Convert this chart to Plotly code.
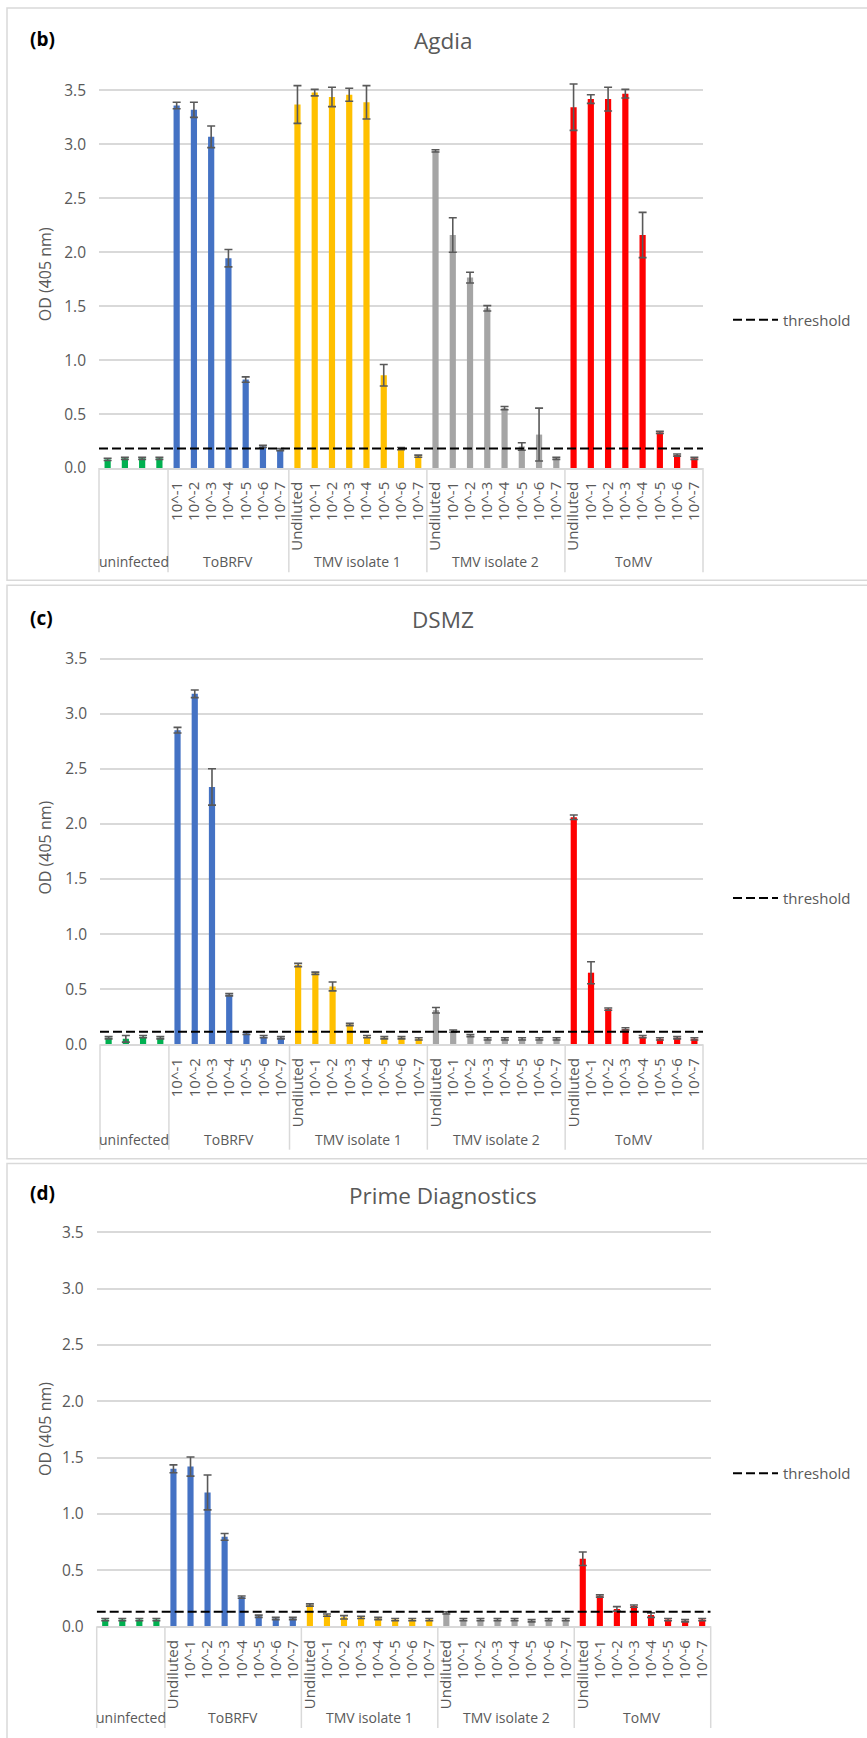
import plotly.graph_objects as go

W, H = 867, 1738

# ---------------- data ----------------
GROUPS = ["uninfected", "ToBRFV", "TMV isolate 1", "TMV isolate 2", "ToMV"]
COLORS = ["#00B050", "#4472C4", "#FFC000", "#A5A5A5", "#FF0000"]
UNINF = ["", "", "", ""]
DIL7 = ["10^-1", "10^-2", "10^-3", "10^-4", "10^-5", "10^-6", "10^-7"]
DIL8 = ["Undiluted"] + DIL7

# (b) Agdia
agdia_labels = [UNINF, DIL7, DIL8, DIL8, DIL8]
agdia_uninfected = [0.08, 0.09, 0.09, 0.09]
agdia_uninfected_err = [0.01, 0.01, 0.01, 0.01]
agdia_tobrfv = [3.36, 3.32, 3.07, 1.945, 0.82, 0.20, 0.17]
agdia_tobrfv_err = [0.03, 0.07, 0.10, 0.08, 0.025, 0.01, 0.01]
agdia_tmv1 = [3.37, 3.48, 3.44, 3.46, 3.39, 0.86, 0.18, 0.11]
agdia_tmv1_err = [0.175, 0.03, 0.09, 0.06, 0.155, 0.10, 0.01, 0.01]
agdia_tmv2 = [2.94, 2.16, 1.765, 1.48, 0.555, 0.20, 0.31, 0.09]
agdia_tmv2_err = [0.01, 0.16, 0.05, 0.025, 0.015, 0.035, 0.245, 0.01]
agdia_tomv = [3.345, 3.42, 3.42, 3.47, 2.16, 0.33, 0.12, 0.09]
agdia_tomv_err = [0.215, 0.04, 0.11, 0.04, 0.21, 0.01, 0.01, 0.01]
agdia_threshold = 0.18

# (c) DSMZ
dsmz_labels = [UNINF, DIL7, DIL8, DIL8, DIL8]
dsmz_uninfected = [0.06, 0.05, 0.07, 0.06]
dsmz_uninfected_err = [0.01, 0.03, 0.01, 0.01]
dsmz_tobrfv = [2.85, 3.18, 2.335, 0.45, 0.10, 0.07, 0.06]
dsmz_tobrfv_err = [0.025, 0.035, 0.165, 0.01, 0.01, 0.01, 0.01]
dsmz_tmv1 = [0.72, 0.645, 0.525, 0.18, 0.07, 0.06, 0.06, 0.05]
dsmz_tmv1_err = [0.015, 0.01, 0.04, 0.01, 0.01, 0.01, 0.01, 0.01]
dsmz_tmv2 = [0.31, 0.12, 0.08, 0.05, 0.05, 0.05, 0.05, 0.05]
dsmz_tmv2_err = [0.025, 0.01, 0.01, 0.01, 0.01, 0.01, 0.01, 0.01]
dsmz_tomv = [2.06, 0.65, 0.32, 0.14, 0.07, 0.05, 0.06, 0.05]
dsmz_tomv_err = [0.02, 0.10, 0.01, 0.01, 0.01, 0.01, 0.01, 0.01]
dsmz_threshold = 0.115

# (d) Prime Diagnostics
prime_labels = [UNINF, DIL8, DIL8, DIL8, DIL8]
prime_uninfected = [0.06, 0.06, 0.06, 0.06]
prime_uninfected_err = [0.01, 0.01, 0.01, 0.01]
prime_tobrfv = [1.40, 1.42, 1.19, 0.795, 0.26, 0.09, 0.07, 0.07]
prime_tobrfv_err = [0.035, 0.085, 0.155, 0.03, 0.01, 0.01, 0.01, 0.01]
prime_tmv1 = [0.19, 0.10, 0.08, 0.08, 0.07, 0.06, 0.06, 0.06]
prime_tmv1_err = [0.01, 0.01, 0.015, 0.01, 0.01, 0.01, 0.01, 0.01]
prime_tmv2 = [0.12, 0.06, 0.06, 0.06, 0.06, 0.05, 0.06, 0.06]
prime_tmv2_err = [0.01, 0.01, 0.01, 0.01, 0.01, 0.01, 0.01, 0.01]
prime_tomv = [0.60, 0.27, 0.155, 0.18, 0.10, 0.06, 0.05, 0.06]
prime_tomv_err = [0.06, 0.01, 0.02, 0.01, 0.02, 0.01, 0.01, 0.01]
prime_threshold = 0.13

Y_TICKS = [0, 0.5, 1.0, 1.5, 2.0, 2.5, 3.0, 3.5]

# ---------------- layout geometry (pixels) ----------------
panels = [
    dict(title="Agdia", tag="(b)", labels=agdia_labels,
         values=[agdia_uninfected, agdia_tobrfv, agdia_tmv1, agdia_tmv2, agdia_tomv],
         errors=[agdia_uninfected_err, agdia_tobrfv_err, agdia_tmv1_err, agdia_tmv2_err, agdia_tomv_err],
         threshold=agdia_threshold,
         px_left=99, px_right=703, px_zero=470, k=108.57,
         box_top=7, box_bottom=583, title_y=40, tag_y=38, ytitle_y=275,
         group_y=564, div_bottom=575, legend_y=321),
    dict(title="DSMZ", tag="(c)", labels=dsmz_labels,
         values=[dsmz_uninfected, dsmz_tobrfv, dsmz_tmv1, dsmz_tmv2, dsmz_tomv],
         errors=[dsmz_uninfected_err, dsmz_tobrfv_err, dsmz_tmv1_err, dsmz_tmv2_err, dsmz_tomv_err],
         threshold=dsmz_threshold,
         px_left=100, px_right=703, px_zero=1050, k=110.94,
         box_top=588, box_bottom=1165, title_y=622, tag_y=621, ytitle_y=852,
         group_y=1146, div_bottom=1156, legend_y=903),
    dict(title="Prime Diagnostics", tag="(d)", labels=prime_labels,
         values=[prime_uninfected, prime_tobrfv, prime_tmv1, prime_tmv2, prime_tomv],
         errors=[prime_uninfected_err, prime_tobrfv_err, prime_tmv1_err, prime_tmv2_err, prime_tomv_err],
         threshold=prime_threshold,
         px_left=96.7, px_right=710.7, px_zero=1635.7, k=113.26,
         box_top=1170, box_bottom=1760, title_y=1202, tag_y=1200, ytitle_y=1437,
         group_y=1727, div_bottom=1738, legend_y=1482),
]

YMAX = 3.6
FONT = "Open Sans, Liberation Sans, sans-serif"
GRAY_TXT = "#595959"
GRID = "#D9D9D9"


def px2x(px):
    return px / W


def px2y(py):
    return 1 - py / H


fig = go.Figure()
shapes = []
annotations = []
layout_axes = {}

for i, p in enumerate(panels):
    n = i + 1
    xa = "x" if n == 1 else f"x{n}"
    ya = "y" if n == 1 else f"y{n}"
    xkey = "xaxis" if n == 1 else f"xaxis{n}"
    ykey = "yaxis" if n == 1 else f"yaxis{n}"
    legkey = "legend" if n == 1 else f"legend{n}"

    ticktext = []
    tickvals = []
    idx = 0
    bounds = [0]
    for g, (labs, vals, errs) in enumerate(zip(p["labels"], p["values"], p["errors"])):
        xs = list(range(idx, idx + len(vals)))
        fig.add_trace(go.Bar(
            x=xs, y=vals, xaxis=xa, yaxis=ya,
            marker=dict(color=COLORS[g], line=dict(width=0)),
            width=0.36, showlegend=False, name=GROUPS[g],
            error_y=dict(type="data", array=errs, visible=True,
                         color="#595959", thickness=1.6, width=4),
        ))
        tickvals += xs
        ticktext += labs
        idx += len(vals)
        bounds.append(idx)
    N = idx

    fig.add_trace(go.Scatter(
        x=[-0.5, N - 0.5], y=[p["threshold"], p["threshold"]],
        xaxis=xa, yaxis=ya, mode="lines", name="threshold",
        line=dict(color="black", width=2, dash="9px,4px"),
        legend=legkey, showlegend=True,
    ))

    top_px = p["px_zero"] - YMAX * p["k"]
    layout_axes[xkey] = dict(
        domain=[px2x(p["px_left"]), px2x(p["px_right"])],
        anchor=ya, range=[-0.5, N - 0.5],
        tickmode="array", tickvals=tickvals, ticktext=ticktext,
        tickangle=-90, tickfont=dict(family=FONT, size=15, color=GRAY_TXT),
        showline=True, linecolor=GRID, linewidth=1.5,
        showgrid=False, zeroline=False, ticks="", ticklabelstandoff=6,
        fixedrange=True,
    )
    layout_axes[ykey] = dict(
        domain=[px2y(p["px_zero"]), px2y(top_px)],
        anchor=xa, range=[0, YMAX],
        tickmode="array", tickvals=Y_TICKS, tickformat=".1f",
        tickfont=dict(family=FONT, size=15.5, color=GRAY_TXT),
        showgrid=True, gridcolor=GRID, gridwidth=1.5,
        zeroline=False, showline=False, ticks="", ticklabelstandoff=12,
        fixedrange=True,
    )

    # legend
    fig.update_layout(**{legkey: dict(
        x=px2x(728), y=px2y(p["legend_y"]), xanchor="left", yanchor="middle",
        font=dict(family=FONT, size=15, color=GRAY_TXT),
        bgcolor="rgba(0,0,0,0)", itemwidth=45,
    )})

    # group divider lines and group labels
    dom0, dom1 = px2x(p["px_left"]), px2x(p["px_right"])
    for b in bounds:
        xp = dom0 + (b / N) * (dom1 - dom0)
        shapes.append(dict(type="line", xref="paper", yref="paper",
                           x0=xp, x1=xp, y0=px2y(p["px_zero"]), y1=px2y(p["div_bottom"]),
                           line=dict(color=GRID, width=1.5)))
    for g in range(len(GROUPS)):
        xc = dom0 + ((bounds[g] + bounds[g + 1]) / 2 / N) * (dom1 - dom0)
        annotations.append(dict(text=GROUPS[g], xref="paper", yref="paper",
                                x=xc, y=px2y(p["group_y"]), showarrow=False,
                                xanchor="center", yanchor="middle",
                                font=dict(family=FONT, size=14, color=GRAY_TXT)))

    # panel box
    shapes.append(dict(type="rect", xref="paper", yref="paper",
                       x0=px2x(7), x1=px2x(875), y0=px2y(p["box_bottom"]), y1=px2y(p["box_top"]),
                       line=dict(color=GRID, width=1.5), fillcolor="rgba(0,0,0,0)", layer="below"))

    # title, tag, y title
    annotations.append(dict(text=p["title"], xref="paper", yref="paper",
                            x=px2x(443), y=px2y(p["title_y"]), showarrow=False,
                            xanchor="center", yanchor="middle",
                            font=dict(family=FONT, size=22.5, color=GRAY_TXT)))
    annotations.append(dict(text="<b>" + p["tag"] + "</b>", xref="paper", yref="paper",
                            x=px2x(28), y=px2y(p["tag_y"]), showarrow=False,
                            xanchor="left", yanchor="middle",
                            font=dict(family=FONT, size=19, color="black")))
    annotations.append(dict(text="OD (405 nm)", xref="paper", yref="paper",
                            x=px2x(45), y=px2y(p["ytitle_y"]), showarrow=False,
                            textangle=-90, xanchor="center", yanchor="middle",
                            font=dict(family=FONT, size=16, color=GRAY_TXT)))

fig.update_layout(
    width=W, height=H,
    margin=dict(l=0, r=0, t=0, b=0),
    paper_bgcolor="white", plot_bgcolor="white",
    barmode="overlay",
    shapes=shapes, annotations=annotations,
    **layout_axes,
)

fig.write_html(
    "out.html",
    config={"displayModeBar": False},
    post_script="document.body.style.margin='0';document.body.style.overflow='hidden';",
)
